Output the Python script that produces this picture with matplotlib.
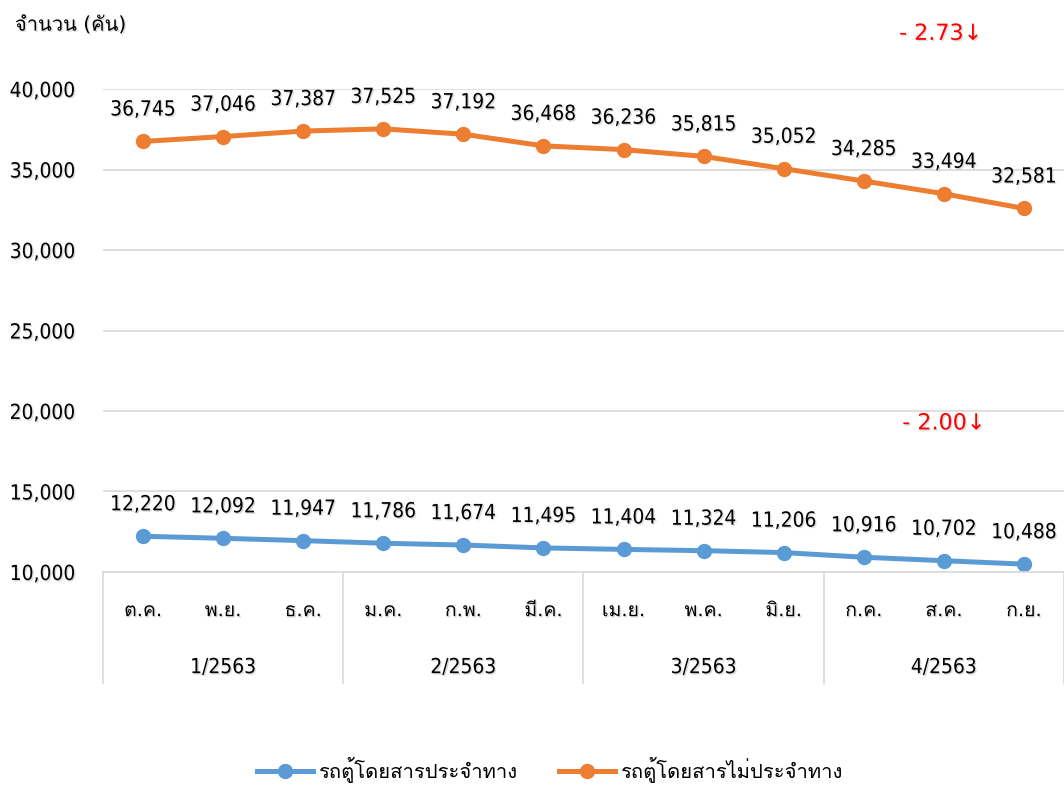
import matplotlib
matplotlib.use('Agg')
import matplotlib.pyplot as plt
import matplotlib.patheffects as pe
from matplotlib import font_manager
from matplotlib.lines import Line2D
from fontTools.ttLib import TTFont


months = ['ต.ค.', 'พ.ย.', 'ธ.ค.', 'ม.ค.', 'ก.พ.', 'มี.ค.',
          'เม.ย.', 'พ.ค.', 'มิ.ย.', 'ก.ค.', 'ส.ค.', 'ก.ย.']
quarters = ['1/2563', '2/2563', '3/2563', '4/2563']
fixed_route = [12220, 12092, 11947, 11786, 11674, 11495,
               11404, 11324, 11206, 10916, 10702, 10488]
non_fixed_route = [36745, 37046, 37387, 37525, 37192, 36468,
                   36236, 35815, 35052, 34285, 33494, 32581]
series_names = ['รถตู้โดยสารประจำทาง', 'รถตู้โดยสารไม่ประจำทาง']
changes = ['- 2.73', '- 2.00']


def find_thai_font():
    # first installed family that has Thai glyphs
    for f in font_manager.fontManager.ttflist:
        try:
            cmap = TTFont(f.fname, fontNumber=0, lazy=True).getBestCmap()
        except Exception:
            continue
        if cmap and 0x0E01 in cmap and 0x0030 in cmap:
            return [f.name]
    return []


thai = find_thai_font()
plt.rcParams['font.family'] = ['DejaVu Sans'] + thai

shadow = [pe.withSimplePatchShadow(offset=(1, -1), shadow_rgbFace='#999999', alpha=0.35)]
num_font = dict(fontsize=15, fontstretch='condensed')

fig = plt.figure(figsize=(10.64, 7.87), dpi=100)
ax = fig.add_axes([0.0968, 0.2732, 0.9032, 0.6137])

x = list(range(len(months)))
blue = '#5B9BD5'
orange = '#ED7D31'
ax.plot(x, fixed_route, color=blue, lw=3.6, marker='o', ms=10, label=series_names[0])
ax.plot(x, non_fixed_route, color=orange, lw=3.6, marker='o', ms=10, label=series_names[1])

for series in (fixed_route, non_fixed_route):
    for xi, v in zip(x, series):
        ax.annotate(f'{v:,}', (xi, v), xytext=(0, 23), textcoords='offset points',
                    ha='center', va='center', path_effects=shadow, **num_font)

ax.set_xlim(-0.5, len(months) - 0.5)
ax.set_ylim(10000, 40000)
ax.set_yticks(range(10000, 40001, 5000))
ax.set_yticklabels([f'{t:,}' for t in range(10000, 40001, 5000)], **num_font)
for lbl in ax.get_yticklabels():
    lbl.set_path_effects(shadow)
ax.tick_params(axis='y', length=0, pad=20)
ax.grid(axis='y', color='#D9D9D9', lw=1.2)
ax.set_axisbelow(True)
for s in ['top', 'right', 'left']:
    ax.spines[s].set_visible(False)
ax.spines['bottom'].set_color('#D9D9D9')
ax.spines['bottom'].set_linewidth(1.2)

# two level category axis
ax.set_xticks(x)
ax.set_xticklabels(months, fontsize=14)
for lbl in ax.get_xticklabels():
    lbl.set_path_effects(shadow)
ax.tick_params(axis='x', length=0, pad=21)
trans = ax.get_xaxis_transform()
for b in [-0.5, 2.5, 5.5, 8.5, 11.5]:
    ax.add_line(Line2D([b, b], [0, -0.23], transform=trans, color='#D9D9D9',
                       lw=1.2, clip_on=False))
for i, q in enumerate(quarters):
    ax.text(3 * i + 1, -0.197, q, transform=trans, ha='center', va='center',
            path_effects=shadow, **num_font)

fig.text(0.014, 0.968, 'จำนวน (คัน)', fontsize=14.5, va='center', ha='left',
         path_effects=shadow)
fig.text(0.845, 0.957, changes[0] + '↓', color='red', fontsize=16, va='center',
         ha='left', path_effects=shadow)
fig.text(0.848, 0.462, changes[1] + '↓', color='red', fontsize=16, va='center',
         ha='left', path_effects=shadow)

fig.legend(loc='center', bbox_to_anchor=(0.517, 0.022), ncol=2, frameon=False,
           fontsize=14.5, handlelength=2.8, handletextpad=0.3, columnspacing=2.0)

fig.savefig('out.png', dpi=100)
